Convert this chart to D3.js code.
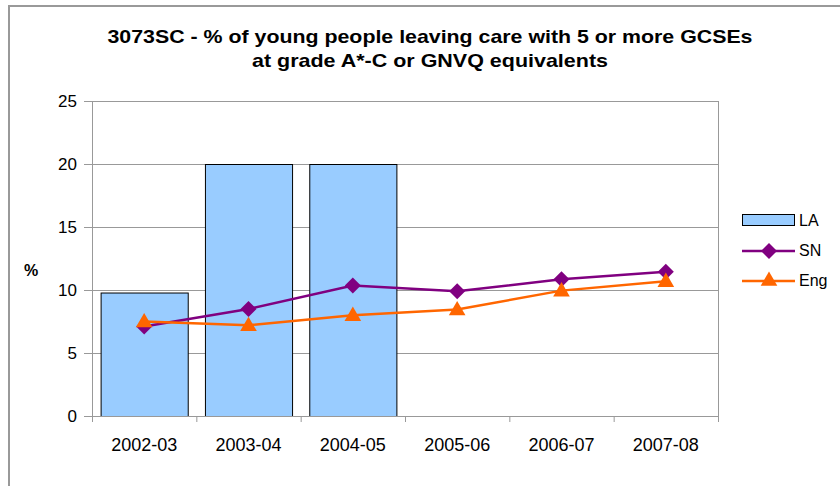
<!DOCTYPE html>
<html>
<head>
<meta charset="utf-8">
<script src="https://cdnjs.cloudflare.com/ajax/libs/d3/7.8.5/d3.min.js"></script>
<style>
  body { margin: 0; background: #fff; }
  text { font-family: Arial, "Liberation Sans", sans-serif; }
</style>
</head>
<body>
<div id="chart"></div>
<script>
var years = ["2002-03", "2003-04", "2004-05", "2005-06", "2006-07", "2007-08"];
var la = [9.8, 20, 20, null, null, null];
var sn = [7.1, 8.5, 10.35, 9.9, 10.85, 11.45];
var eng = [7.5, 7.2, 8.0, 8.45, 9.95, 10.7];
var yTicks = [0, 5, 10, 15, 20, 25];
var titleLines = ["3073SC - % of young people leaving care with 5 or more GCSEs", "at grade A*-C or GNVQ equivalents"];
var titleWidths = [645, 356];

var W = 840, H = 486;
var margin = {top: 101, left: 92, right: 122, bottom: 70};
var width = W - margin.left - margin.right,
    height = H - margin.top - margin.bottom;

var svg = d3.select("#chart").append("svg")
    .attr("width", W)
    .attr("height", H);

// outer chart frame (runs off the right/bottom edge)
svg.append("rect")
    .attr("x", 9).attr("y", 6)
    .attr("width", W + 20).attr("height", H + 20)
    .attr("fill", "#fff")
    .attr("stroke", "#999")
    .attr("stroke-width", 2);

svg.selectAll("text.title")
    .data(titleLines)
  .enter().append("text")
    .attr("class", "title")
    .attr("x", 430)
    .attr("y", function(d, i) { return 43 + i * 24; })
    .attr("text-anchor", "middle")
    .attr("font-size", "19px")
    .attr("font-weight", "bold")
    .attr("textLength", function(d, i) { return titleWidths[i]; })
    .attr("lengthAdjust", "spacingAndGlyphs")
    .text(function(d) { return d; });

var g = svg.append("g")
    .attr("transform", "translate(" + margin.left + "," + margin.top + ")");

var x = d3.scaleBand().domain(years).range([0, width]).paddingInner(0.165).paddingOuter(0.0825);
var xc = d3.scaleBand().domain(years).range([0, width]);
var y = d3.scaleLinear().domain([0, 25]).range([height, 0]);

// gridlines
g.selectAll("line.grid")
    .data(yTicks.filter(function(d) { return d > 0; }))
  .enter().append("line")
    .attr("class", "grid")
    .attr("x1", 0).attr("x2", width)
    .attr("y1", function(d) { return y(d) + 0.5; })
    .attr("y2", function(d) { return y(d) + 0.5; })
    .attr("stroke", "#999")
    .attr("stroke-width", 1);

// right plot border
g.append("line")
    .attr("x1", width + 0.5).attr("x2", width + 0.5)
    .attr("y1", 0).attr("y2", height)
    .attr("stroke", "#999");

// bars
g.selectAll("rect.bar")
    .data(years.map(function(d, i) { return {year: d, v: la[i]}; }).filter(function(d) { return d.v != null; }))
  .enter().append("rect")
    .attr("class", "bar")
    .attr("x", function(d) { return x(d.year) + 0.5; })
    .attr("y", function(d) { return y(d.v) + 0.5; })
    .attr("width", x.bandwidth())
    .attr("height", function(d) { return height - y(d.v); })
    .attr("fill", "#99ccff")
    .attr("stroke", "#000")
    .attr("stroke-width", 1);

// axes
var yAxis = g.append("g")
    .call(d3.axisLeft(y).tickValues(yTicks).tickSize(8).tickPadding(7));
yAxis.selectAll("text").attr("font-size", "17px").attr("fill", "#000").attr("font-family", "Arial, 'Liberation Sans', sans-serif");
yAxis.selectAll("line,path").attr("stroke", "#999");

var xAxis = g.append("g")
    .attr("transform", "translate(0," + height + ")")
    .call(d3.axisBottom(xc).tickValues([]).tickSizeOuter(0));
xAxis.select("path").attr("stroke", "#999");
g.selectAll("line.xtick")
    .data(d3.range(years.length + 1))
  .enter().append("line")
    .attr("class", "xtick")
    .attr("x1", function(i) { return i * xc.step() + 0.5; })
    .attr("x2", function(i) { return i * xc.step() + 0.5; })
    .attr("y1", height).attr("y2", height + 6)
    .attr("stroke", "#999");
g.selectAll("text.xlab")
    .data(years)
  .enter().append("text")
    .attr("class", "xlab")
    .attr("x", function(d) { return xc(d) + xc.bandwidth() / 2; })
    .attr("y", height + 35)
    .attr("text-anchor", "middle")
    .attr("font-size", "18px")
    .text(function(d) { return d; });

// y label
svg.append("text")
    .attr("x", 31).attr("y", 276)
    .attr("text-anchor", "middle")
    .attr("font-size", "16px")
    .attr("font-weight", "bold")
    .text("%");

// lines
var line = d3.line()
    .x(function(d, i) { return xc(years[i]) + xc.bandwidth() / 2; })
    .y(function(d) { return y(d); });

g.append("path").datum(sn)
    .attr("d", line).attr("fill", "none")
    .attr("stroke", "#800080").attr("stroke-width", 2.5);
g.append("path").datum(eng)
    .attr("d", line).attr("fill", "none")
    .attr("stroke", "#ff6600").attr("stroke-width", 2.5);

// diamond = rotated square, triangle ~16px wide
var diamond = d3.symbol().type(d3.symbolSquare).size(128);
var tri = d3.symbol().type(d3.symbolTriangle).size(120);

g.selectAll("path.sn")
    .data(sn)
  .enter().append("path")
    .attr("class", "sn")
    .attr("d", diamond)
    .attr("transform", function(d, i) { return "translate(" + (xc(years[i]) + xc.bandwidth() / 2) + "," + y(d) + ") rotate(45)"; })
    .attr("fill", "#800080");
g.selectAll("path.eng")
    .data(eng)
  .enter().append("path")
    .attr("class", "eng")
    .attr("d", tri)
    .attr("transform", function(d, i) { return "translate(" + (xc(years[i]) + xc.bandwidth() / 2) + "," + (y(d) + 1) + ")"; })
    .attr("fill", "#ff6600");

// legend
var leg = svg.append("g").attr("transform", "translate(742,0)");
leg.append("rect")
    .attr("x", 0.5).attr("y", 214.5).attr("width", 52).attr("height", 11)
    .attr("fill", "#99ccff").attr("stroke", "#000");
leg.append("line").attr("x1", 0).attr("x2", 53).attr("y1", 251).attr("y2", 251)
    .attr("stroke", "#800080").attr("stroke-width", 2.5);
leg.append("path").attr("d", diamond).attr("transform", "translate(27,251) rotate(45)").attr("fill", "#800080");
leg.append("line").attr("x1", 0).attr("x2", 53).attr("y1", 281).attr("y2", 281)
    .attr("stroke", "#ff6600").attr("stroke-width", 2.5);
leg.append("path").attr("d", tri).attr("transform", "translate(27,281)").attr("fill", "#ff6600");
leg.selectAll("text.leg")
    .data(["LA", "SN", "Eng"])
  .enter().append("text")
    .attr("class", "leg")
    .attr("x", 57)
    .attr("y", function(d, i) { return 226 + i * 30; })
    .attr("font-size", "16px")
    .text(function(d) { return d; });
</script>
</body>
</html>
